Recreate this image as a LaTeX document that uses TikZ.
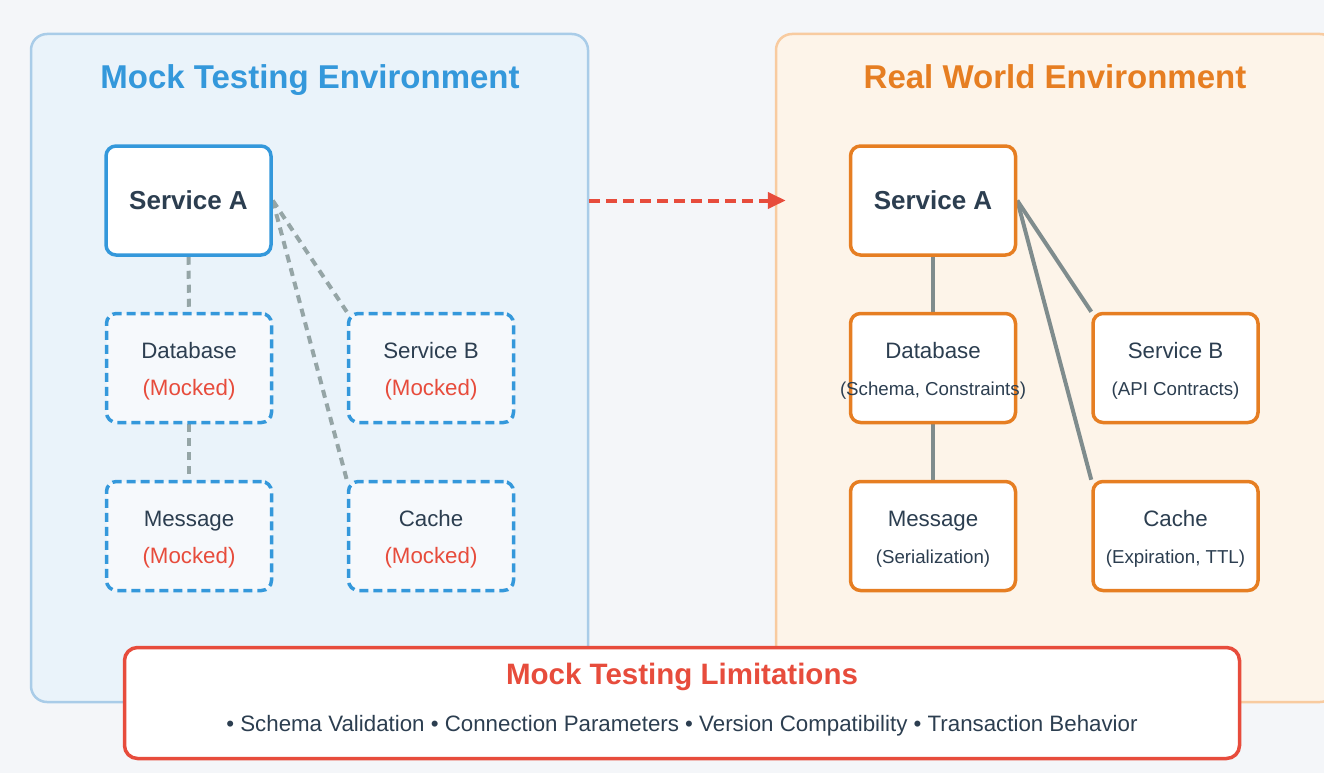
\documentclass[tikz,border=0pt]{standalone}
\usepackage{fontspec}
\setmainfont{Liberation Sans}
\usetikzlibrary{arrows.meta}
\definecolor{bgc}{HTML}{F4F6F9}
\definecolor{lpfill}{HTML}{EAF3FA}
\definecolor{lpdraw}{HTML}{A9CCE8}
\definecolor{rpfill}{HTML}{FDF4E9}
\definecolor{rpdraw}{HTML}{F8CBA0}
\definecolor{mblue}{HTML}{3498DB}
\definecolor{morange}{HTML}{E67E22}
\definecolor{mred}{HTML}{E74C3C}
\definecolor{dark}{HTML}{2C3E50}
\definecolor{lgray}{HTML}{95A5A6}
\definecolor{dgray}{HTML}{7F8C8D}
\definecolor{mockfill}{HTML}{F6F9FC}
\pgfdeclarelayer{back}
\pgfdeclarelayer{mid}
\pgfsetlayers{back,mid,main}
\newcommand{\twoline}[2]{\rule{0pt}{24pt}#1\\#2\rule[-6.7pt]{0pt}{6.7pt}}
\newcommand{\mocked}{\textcolor{mred}{(Mocked)}}
\newcommand{\smallsub}[1]{{\fontsize{18.7}{36.7}\selectfont #1}}
\begin{document}
\begin{tikzpicture}[x=1pt,y=-1pt,
  panel/.style={rounded corners=16pt, line width=2.5pt, inner sep=0pt, minimum height=668pt},
  boxbase/.style={rounded corners=10pt, line width=3.5pt, minimum width=165pt, minimum height=109pt, align=center, text=dark, inner sep=0pt, font=\fontsize{22.3}{36.7}\selectfont},
  mockbox/.style={boxbase, draw=mblue, dash pattern=on 9pt off 5pt, fill=mockfill},
  realbox/.style={boxbase, draw=morange, fill=white},
  svcbox/.style={boxbase, fill=white, font=\fontsize{26}{30}\selectfont\bfseries},
  title/.style={font=\fontsize{33}{38}\selectfont\bfseries, inner sep=0pt, anchor=base},
  mocklink/.style={draw=lgray, line width=4pt, dash pattern=on 8pt off 6pt},
  reallink/.style={draw=dgray, line width=4pt},
]
\useasboundingbox (0,0) rectangle (1324,773);
\clip (0,0) rectangle (1324,773);
\begin{pgfonlayer}{back}
\fill[bgc] (0,0) rectangle (1324,773);
\node[panel, draw=lpdraw, fill=lpfill, minimum width=557pt] (lpanel) at (309.5,368) {};
\node[panel, draw=rpdraw, fill=rpfill, minimum width=560pt] (rpanel) at (1056,368) {};
\end{pgfonlayer}

\node[title, text=mblue] (ltitle) at (310,88.5) {Mock Testing Environment};
\node[title, text=morange] (rtitle) at (1055,88.5) {Real World Environment};

% left side
\node[svcbox, draw=mblue] (lsa) at (188.5,200.5) {Service A};
\node[mockbox] (ldb) at (189,368) {\twoline{Database}{\mocked}};
\node[mockbox] (lsb) at (431,368) {\twoline{Service B}{\mocked}};
\node[mockbox] (lmsg) at (189,536) {\twoline{Message}{\mocked}};
\node[mockbox] (lcache) at (431,536) {\twoline{Cache}{\mocked}};

% right side
\node[svcbox, draw=morange] (rsa) at (933,200.5) {Service A};
\node[realbox] (rdb) at (933,368) {\twoline{Database}{\smallsub{\makebox[0pt]{(Schema, Constraints)}}}};
\node[realbox] (rsb) at (1175.5,368) {\twoline{Service B}{\smallsub{(API Contracts)}}};
\node[realbox] (rmsg) at (933,536) {\twoline{Message}{\smallsub{(Serialization)}}};
\node[realbox] (rcache) at (1175.5,536) {\twoline{Cache}{\smallsub{(Expiration, TTL)}}};

\begin{pgfonlayer}{mid}
\draw[mocklink] (lsa.south) -- (ldb.north);
\draw[mocklink] (ldb.south) -- (lmsg.north);
\draw[mocklink] (lsa.east) -- (lsb.north west);
\draw[mocklink] (lsa.east) -- (lcache.north west);
\draw[reallink] (rsa.south) -- (rdb.north);
\draw[reallink] (rdb.south) -- (rmsg.north);
\draw[reallink] (rsa.east) -- (rsb.north west);
\draw[reallink] (rsa.east) -- (rcache.north west);
\draw[draw=mred, line width=4pt, dash pattern=on 11pt off 6pt, -{Triangle[length=18pt,width=16pt]}, shorten >=-11pt]
  (lsa -| lpanel.east) -- (lsa -| rpanel.west);
\end{pgfonlayer}

% limitations
\node[draw=mred, line width=3.5pt, fill=white, rounded corners=13pt, minimum width=1115pt, minimum height=111pt] (limits) at (682,703) {};
\node[font=\fontsize{29.5}{34}\selectfont\bfseries, text=mred, inner sep=0pt, anchor=base] (limtitle) at (682,684.3) {Mock Testing Limitations};
\node[font=\fontsize{22.3}{26}\selectfont, text=dark, inner sep=0pt, anchor=base] (limtext) at (682,731.5) {• Schema Validation • Connection Parameters • Version Compatibility • Transaction Behavior};
\end{tikzpicture}
\end{document}
